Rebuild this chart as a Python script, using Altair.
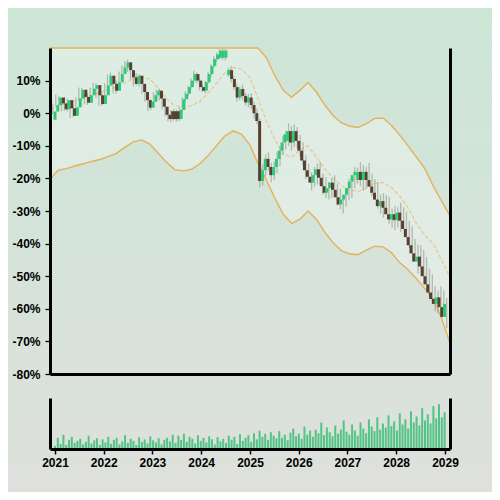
import altair as alt
import numpy as np
import pandas as pd

# ---------------- data ----------------
opens = [
    -2.0, 0.5, 2.5, 4.8, 3.0, 1.2, 4.0, 1.5, -0.8, 1.8,
    4.5, 7.2, 5.0, 3.2, 5.5, 7.5, 8.6, 5.5, 2.8, 5.5,
    8.5, 11.5, 9.0, 6.9, 9.5, 12.0, 14.0, 15.6, 13.2, 11.0,
    9.0, 11.5, 9.0, 6.5, 4.0, 1.7, 3.5, 5.5, 6.9, 4.5,
    2.0, -0.5, 0.6, 0.6, 0.6, -1.8, 1.0, 4.3, 6.0, 8.0,
    10.0, 12.0, 10.0, 8.0, 6.9, 9.5, 12.0, 14.5, 16.6, 17.0,
    17.0, 17.0, 11.7, 13.2, 10.5, 8.0, 4.8, 7.4, 5.3, 3.3,
    4.8, 2.5, 0.0, -2.4, -20.8, -17.5, -14.0, -16.5, -19.0, -16.5,
    -14.0, -11.5, -9.0, -8.5, -5.5, -9.0, -5.5, -8.5, -11.5, -14.5,
    -17.5, -19.5, -21.3, -19.0, -17.2, -19.8, -22.4, -24.4, -23.0, -21.3,
    -23.5, -25.8, -28.0, -26.5, -25.0, -23.0, -21.0, -19.0, -20.5, -18.0,
    -20.5, -18.0, -20.5, -22.5, -24.4, -26.5, -28.5, -27.0, -29.0, -31.0,
    -32.6, -31.0, -32.8, -30.5, -33.0, -35.5, -38.0, -40.5, -43.0, -45.5,
    -44.0, -47.0, -50.0, -52.5, -55.0, -57.0, -58.5, -56.5, -59.5, -62.5,
]
closes = [
    0.5, 2.5, 4.8, 3.0, 1.2, 4.0, 1.5, -0.8, 1.8, 4.5,
    7.2, 5.0, 3.2, 5.5, 7.5, 8.6, 5.5, 2.8, 5.5, 8.5,
    11.5, 9.0, 6.9, 9.5, 12.0, 14.0, 15.6, 13.2, 11.0, 9.0,
    11.5, 9.0, 6.5, 4.0, 1.7, 3.5, 5.5, 6.9, 4.5, 2.0,
    -0.5, -1.8, -1.8, -1.8, -1.8, 1.0, 4.3, 6.0, 8.0, 10.0,
    12.0, 10.0, 8.0, 6.9, 9.5, 12.0, 14.5, 16.6, 18.0, 19.2,
    19.2, 19.2, 13.2, 10.5, 8.0, 4.8, 7.4, 5.3, 3.3, 4.8,
    2.5, 0.0, -2.4, -20.8, -17.5, -14.0, -16.5, -19.0, -16.5, -14.0,
    -11.5, -9.0, -6.5, -5.5, -9.0, -5.5, -8.5, -11.5, -14.5, -17.5,
    -19.5, -21.3, -19.0, -17.2, -19.8, -22.4, -24.4, -23.0, -21.3, -23.5,
    -25.8, -28.0, -26.5, -25.0, -23.0, -21.0, -19.0, -18.0, -18.0, -20.5,
    -18.0, -20.5, -22.5, -24.4, -26.5, -28.5, -27.0, -29.0, -31.0, -32.6,
    -31.0, -32.8, -30.5, -33.0, -35.5, -38.0, -40.5, -43.0, -45.5, -44.0,
    -47.0, -50.0, -52.5, -55.0, -57.0, -58.5, -56.5, -59.5, -62.5, -58.5,
]
wick_up = [
    0.8, 0.5, 0.9, 0.4, 0.7, 1.0, 0.5, 0.6, 0.9, 0.4,
    0.7, 0.5, 1.0, 0.6, 0.4, 0.8, 0.5, 0.9, 0.6, 0.7,
    0.4, 1.0, 0.6, 0.5, 0.8, 0.7, 0.4, 0.9, 0.6, 0.5,
    0.8, 0.4, 0.7, 1.0, 0.5, 0.6, 0.9, 0.4, 0.7, 0.5,
    0.8, 0.6, 0.4, 0.7, 0.5, 0.9, 0.6, 0.8, 0.4, 0.7,
    1.0, 0.5, 0.6, 0.8, 0.4, 0.7, 0.5, 0.9, 0.6, 0.4,
    0.5, 0.4, 0.6, 1.2, 0.8, 1.0, 0.7, 1.3, 0.9, 1.1,
    1.4, 1.0, 1.5, 0.8, 1.8, 1.3, 2.0, 1.2, 1.6, 2.2,
    1.4, 1.9, 1.1, 2.4, 1.5, 2.1, 1.3, 1.8, 2.6, 1.6,
    2.0, 1.4, 2.5, 1.7, 2.2, 1.2, 2.8, 1.9, 1.5, 2.3,
    1.8, 2.6, 1.4, 2.1, 2.9, 1.7, 2.4, 1.3, 3.0, 2.0,
    1.6, 2.7, 1.9, 2.3, 3.2, 1.5, 2.5, 2.0, 3.4, 1.8,
    2.6, 2.2, 3.0, 1.7, 2.8, 2.4, 3.3, 1.9, 2.7, 3.5,
    2.1, 2.9, 2.3, 3.1, 2.0, 2.6, 3.4, 2.2, 2.8, 2.5,
]
wick_dn = [
    0.5, 0.8, 0.4, 0.9, 0.6, 0.5, 1.0, 0.7, 0.4, 0.8,
    0.6, 0.9, 0.5, 0.7, 1.0, 0.4, 0.8, 0.6, 0.5, 0.9,
    0.7, 0.5, 0.8, 1.0, 0.4, 0.6, 0.9, 0.5, 0.7, 0.8,
    0.5, 0.9, 0.6, 0.4, 1.0, 0.7, 0.5, 0.8, 0.6, 0.9,
    0.4, 0.7, 1.0, 0.5, 0.8, 0.6, 0.4, 0.9, 0.7, 0.5,
    0.6, 0.8, 1.0, 0.4, 0.7, 0.5, 0.9, 0.6, 0.8, 0.5,
    0.7, 0.9, 0.5, 1.1, 0.9, 1.2, 0.8, 1.4, 1.0, 1.5,
    1.2, 1.6, 1.0, 2.0, 1.4, 1.8, 1.2, 2.2, 1.5, 1.9,
    2.3, 1.3, 2.1, 1.6, 2.5, 1.4, 2.2, 1.8, 1.5, 2.7,
    1.7, 2.4, 1.3, 2.9, 1.9, 2.6, 1.6, 2.0, 3.0, 1.8,
    2.5, 1.5, 2.8, 2.2, 1.7, 3.1, 2.0, 2.6, 1.9, 3.3,
    2.4, 1.8, 3.0, 2.1, 2.7, 2.3, 3.5, 2.0, 2.9, 2.5,
    3.2, 2.2, 3.6, 2.6, 2.1, 3.3, 2.8, 2.4, 3.7, 2.3,
    3.0, 2.7, 3.4, 2.5, 3.8, 2.9, 3.1, 2.6, 3.5, 3.0,
]
volume = [
    6, 22, 10, 28, 8, 18, 24, 12, 16, 20, 9, 14, 26, 11, 17, 21, 8, 19, 13, 24,
    10, 18, 22, 9, 15, 27, 12, 20, 16, 8, 23, 14, 19, 11, 25, 17, 13, 21, 9, 18,
    22, 15, 28, 12, 26, 18, 30, 14, 24, 20, 11, 27, 16, 22, 13, 25, 19, 9, 23, 15,
    20, 12, 26, 18, 24, 10, 29, 16, 22, 27, 14, 31, 19, 36, 24, 30, 18, 33, 26, 21,
    35, 22, 28, 17, 32, 40, 25, 30, 20, 44, 28, 36, 24, 38, 31, 52, 27, 42, 33, 25,
    46, 30, 38, 56, 34, 28, 48, 36, 26, 52, 40, 31, 58, 44, 35, 62, 38, 50, 42, 66,
    45, 54, 36, 70, 48, 58, 40, 74, 52, 64, 46, 80, 56, 68, 50, 84, 60, 88, 62, 72,
]
band_upper = [
    22, 24, 25, 26, 27, 28, 28, 29, 30, 31,
    31, 30, 29, 28, 26, 24, 23, 24, 26, 28,
    30, 32, 34, 33, 28, 22.5, 17.0, 11.5, 7.0, 4.9,
    7.0, 9.4, 6.5, 2.5, -0.8, -3.0, -4.0, -4.4, -3.2, -1.6,
    -1.5, -3.8, -6.8, -10.0, -13.5, -17.0, -22.4, -27.0, -31.5,
]
band_mid = [
    0.8, 2.3, 3.0, 3.8, 4.6, 5.5, 6.4, 7.2, 8.0, 9.2,
    10.5, 11.0, 10.5, 7.8, 4.5, 2.3, 2.0, 2.3, 3.6, 6.2,
    9.2, 12.3, 14.0, 13.5, 11.0, 4.5, -2.5, -8.0, -12.5, -13.5,
    -11.2, -10.0, -13.5, -17.0, -20.0, -22.3, -23.5, -24.0, -23.0, -21.5,
    -21.3, -22.8, -25.5, -29.0, -33.8, -37.5, -40.0, -45.0, -50.5,
]
band_lower = [
    -20.3, -17.5, -17.0, -16.2, -15.5, -14.8, -14.2, -13.3, -12.3, -10.5,
    -8.8, -8.2, -9.5, -12.2, -15.0, -17.3, -17.7, -17.2, -15.5, -13.0,
    -10.0, -7.0, -5.4, -6.5, -9.8, -15.5, -20.5, -26.0, -31.0, -33.8,
    -32.5, -30.0, -32.5, -36.5, -39.8, -42.2, -43.2, -43.4, -42.0, -40.8,
    -41.0, -42.8, -45.9, -48.0, -50.8, -53.8, -57.0, -63.0, -70.5,
]
price_ticks = [-80, -70, -60, -50, -40, -30, -20, -10, 0, 10]
year_ticks = list(range(2021, 2030))

# ---------------- tables ----------------
candles = pd.DataFrame({
    "date": pd.date_range("2021-01-01", periods=len(closes), freq="21D"),
    "open": opens,
    "close": closes,
})
body_top = np.maximum(candles["open"], candles["close"])
body_bot = np.minimum(candles["open"], candles["close"])
candles["high"] = body_top + np.array(wick_up)
candles["low"] = body_bot - np.array(wick_dn)
candles["vol"] = volume
candles["dir"] = np.where(candles["close"] >= candles["open"], "up", "down")

bands = pd.DataFrame({
    "date": pd.date_range("2021-01-01", periods=len(band_mid), freq="2MS"),
    "upper": band_upper,
    "mid": band_mid,
    "lower": band_lower,
})

# ---------------- styling ----------------
GREEN = "#2fc878"
BROWN = "#56402f"
GOLD = "#e4b159"
GOLD_LIGHT = "#e9c483"
FONT = "Liberation Sans"

X_DOMAIN = [alt.DateTime(year=2021, month=1, date=1), alt.DateTime(year=2029, month=1, date=1)]


def xscale():
    return alt.Scale(domain=X_DOMAIN)


def pscale():
    return alt.Scale(domain=[-80, 20], range=[326, 0], clamp=True, nice=False, zero=False)


def vscale():
    return alt.Scale(domain=[0, 100], range=[401, 350], nice=False, zero=True)


def line_axis(orient):
    return alt.Axis(orient=orient, labels=False, ticks=False, domain=True,
                    domainColor="black", domainWidth=3, grid=False, title=None, zindex=1)


price_axis = alt.Axis(
    orient="left", values=price_ticks, labelExpr="datum.value + '%'",
    domainColor="black", domainWidth=3, tickColor="black", tickSize=5, tickWidth=1.3,
    labelFont=FONT, labelFontSize=12, labelFontWeight="bold", labelColor="black",
    labelPadding=5, grid=False, title=None, zindex=1,
)
year_axis = alt.Axis(
    orient="bottom", values=[alt.DateTime(year=y, month=1, date=1) for y in year_ticks],
    format="%Y", labelFlush=False, labelOverlap=False, labelAlign="center",
    domainColor="black", domainWidth=3, tickColor="black", tickSize=5, tickWidth=1.5,
    labelFont=FONT, labelFontSize=12, labelFontWeight="bold", labelColor="black",
    labelPadding=3, grid=False, title=None, zindex=1,
)
price_x_axis = alt.Axis(orient="bottom", offset=-75, labels=False, ticks=False,
                        domainColor="black", domainWidth=3, grid=False, title=None, zindex=1)

gradient = alt.LinearGradient(
    gradient="linear",
    stops=[alt.GradientStop(color="#cce6d6", offset=0),
           alt.GradientStop(color="#d6e3da", offset=0.55),
           alt.GradientStop(color="#dee0dc", offset=1)],
    x1=0, x2=0, y1=0, y2=1,
)

# ---------------- layers ----------------
bg = alt.Chart(alt.Data(values=[{}])).mark_rect(fill=gradient).encode(
    x=alt.value(-42), x2=alt.value(442), y=alt.value(-40), y2=alt.value(444)
)

band_fill = alt.Chart(bands).mark_area(color="white", opacity=0.3).encode(
    x=alt.X("date:T", scale=xscale(), axis=None),
    y=alt.Y("upper:Q", scale=pscale(), axis=None),
    y2="lower:Q",
)

upper_line = alt.Chart(bands).mark_line(color=GOLD, strokeWidth=1.4).encode(
    x=alt.X("date:T", scale=xscale(), axis=None),
    y=alt.Y("upper:Q", scale=pscale(), axis=line_axis("right")),
)
lower_line = alt.Chart(bands).mark_line(color=GOLD, strokeWidth=1.4).encode(
    x=alt.X("date:T", scale=xscale(), axis=None),
    y=alt.Y("lower:Q", scale=pscale(), axis=None),
)
mid_line = alt.Chart(bands).mark_line(color=GOLD_LIGHT, strokeWidth=1.1, strokeDash=[4, 2]).encode(
    x=alt.X("date:T", scale=xscale(), axis=None),
    y=alt.Y("mid:Q", scale=pscale(), axis=None),
)

wicks = alt.Chart(candles).mark_rule(color="#85857c", opacity=0.5, strokeWidth=1.3).encode(
    x=alt.X("date:T", scale=xscale(), axis=None),
    y=alt.Y("low:Q", scale=pscale(), axis=None),
    y2="high:Q",
)

bodies = alt.Chart(candles).mark_bar(size=3.0).encode(
    x=alt.X("date:T", scale=xscale(), axis=price_x_axis),
    y=alt.Y("open:Q", scale=pscale(), axis=price_axis),
    y2="close:Q",
    color=alt.Color("dir:N", scale=alt.Scale(domain=["up", "down"], range=[GREEN, BROWN]), legend=None),
)

vol_bars = alt.Chart(candles).mark_bar(size=2.0, color="#45c07d", opacity=0.9).encode(
    x=alt.X("date:T", scale=xscale(), axis=year_axis),
    y=alt.Y("vol:Q", scale=vscale(), axis=line_axis("left")),
)
vol_right = alt.Chart(candles).mark_bar(size=1, opacity=0).encode(
    x=alt.X("date:T", scale=xscale(), axis=None),
    y=alt.Y("vol:Q", scale=vscale(), axis=line_axis("right")),
)

chart = alt.layer(
    bg, band_fill, upper_line, lower_line, mid_line, wicks, bodies, vol_bars, vol_right
).resolve_scale(
    x="independent", y="independent", color="independent"
).properties(
    width=400, height=401,
    autosize=alt.AutoSizeParams(type="none"),
    padding={"left": 42, "top": 40, "right": 42, "bottom": 43},
    background="#d6e4da",
).configure_view(strokeWidth=0)

chart.save("out.html", embed_options={"renderer": "svg", "actions": False})
